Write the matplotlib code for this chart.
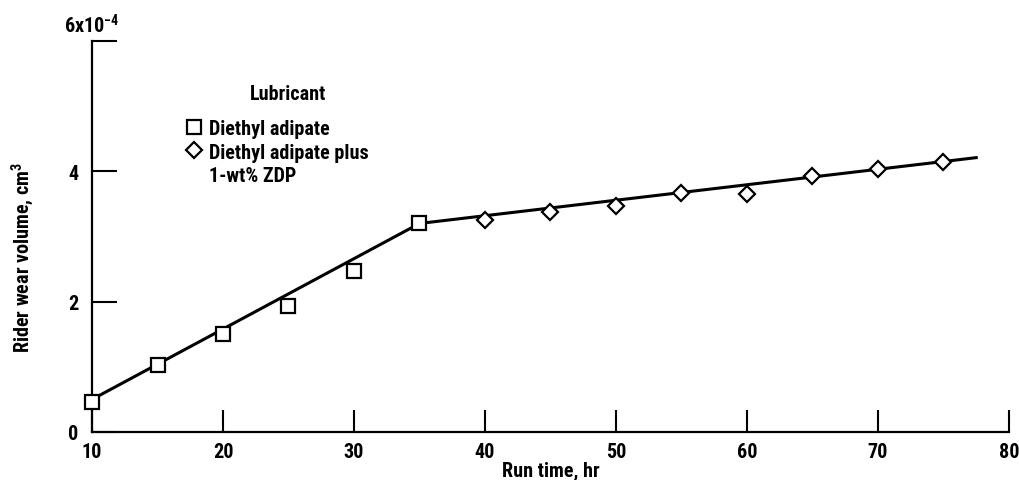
import matplotlib
matplotlib.use("Agg")
import matplotlib.pyplot as plt
from matplotlib import font_manager
from matplotlib.lines import Line2D

# narrow lettering if the system has it, otherwise plain DejaVu at a smaller size
fonts = font_manager.fontManager.ttflist
names = {f.name for f in fonts}
fs = 11.5
family = ['DejaVu Sans']
for cand in ['Liberation Sans Narrow', 'DejaVu Sans Condensed', 'Roboto Condensed',
             'Open Sans Condensed', 'Noto Sans Condensed']:
    if cand in names:
        family = [cand, 'DejaVu Sans']
        fs = 14.5
        break
else:
    if any(f.name == 'DejaVu Sans' and f.stretch == 'condensed' for f in fonts):
        plt.rcParams['font.stretch'] = 'condensed'
        fs = 14.5

plt.rcParams['font.family'] = family
plt.rcParams['font.weight'] = 'bold'
plt.rcParams['axes.labelweight'] = 'bold'
plt.rcParams['mathtext.default'] = 'regular'

# run time, hr / rider wear volume, 1e-4 cm^3
t_plain = [10, 15, 20, 25, 30, 35]
wear_plain = [0.46, 1.03, 1.50, 1.94, 2.47, 3.21]

t_zdp = [40, 45, 50, 55, 60, 65, 70, 75]
wear_zdp = [3.26, 3.37, 3.47, 3.66, 3.65, 3.93, 4.03, 4.15]

# faired curve through the data
fit_t = [10, 35, 77.5]
fit_wear = [0.50, 3.20, 4.21]

x_ticks = [10, 20, 30, 40, 50, 60, 70, 80]
y_ticks = [0, 2, 4, 6]
y_labels = ['0', '2', '4', '']

fig = plt.figure(figsize=(10.2, 4.81), dpi=100)
ax = fig.add_axes([0.0902, 0.0998, 0.8990, 0.8129])

ax.plot(fit_t, fit_wear, color='black', lw=2.2, zorder=2, clip_on=False)
ax.plot(t_plain, wear_plain, 's', ms=10, mfc='white', mec='black', mew=1.6,
        zorder=3, clip_on=False)
ax.plot(t_zdp, wear_zdp, 'D', ms=8.5, mfc='white', mec='black', mew=1.6,
        zorder=3, clip_on=False)

ax.set_xlim(10, 80)
ax.set_ylim(0, 6)
ax.set_xticks(x_ticks)
ax.set_yticks(y_ticks)
ax.set_yticklabels(y_labels)
ax.tick_params(axis='both', direction='in', width=1.5, labelsize=fs)
ax.tick_params(axis='x', length=16, pad=7)
ax.tick_params(axis='y', length=18, pad=10)
for side in ('top', 'right'):
    ax.spines[side].set_visible(False)
for side in ('left', 'bottom'):
    ax.spines[side].set_linewidth(1.6)

ax.annotate('6x10$^{-4}$', xy=(0, 6), xycoords=('axes fraction', 'data'),
            xytext=(0, 3), textcoords='offset points', ha='center', va='bottom',
            fontsize=fs)

ax.set_xlabel('Run time, hr', fontsize=fs, labelpad=0)
ax.set_ylabel('Rider wear volume, cm$^3$', fontsize=fs)
ax.yaxis.set_label_coords(-0.061, 0.45)

ax.text(0.214, 0.865, 'Lubricant', transform=ax.transAxes, ha='center',
        va='center', fontsize=fs)
handles = [
    Line2D([], [], ls='none', marker='s', ms=10, mfc='white', mec='black', mew=1.6),
    Line2D([], [], ls='none', marker='D', ms=8.5, mfc='white', mec='black', mew=1.6),
    Line2D([], [], ls='none'),
]
labels = ['Diethyl adipate', 'Diethyl adipate plus', '1-wt% ZDP']
ax.legend(handles, labels, loc='upper left', bbox_to_anchor=(0.09, 0.825),
          frameon=False, fontsize=fs, handlelength=0.9, handletextpad=0.3,
          labelspacing=0.2, borderpad=0)

fig.savefig('out.png', dpi=100)
